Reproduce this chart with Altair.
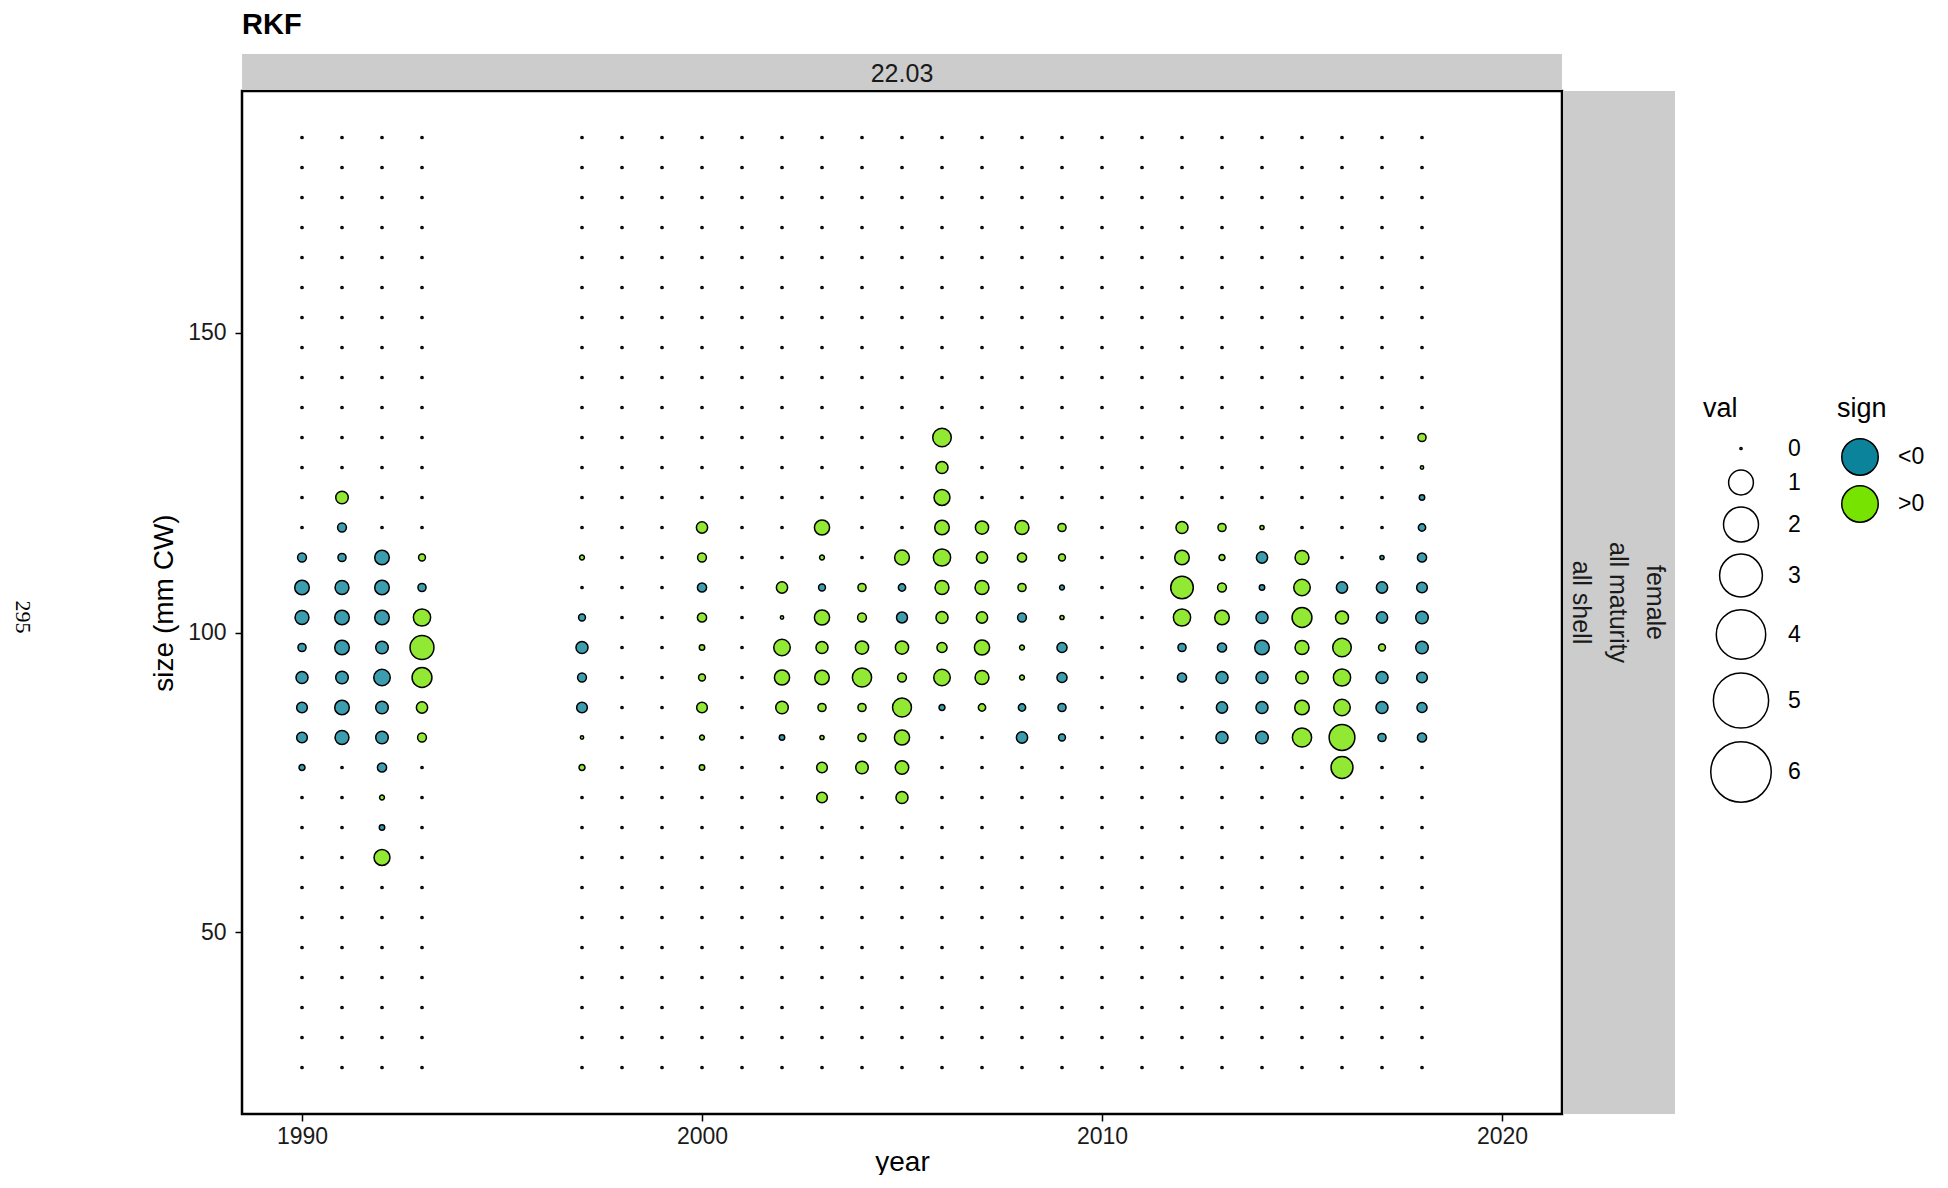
import altair as alt
import pandas as pd

# ---- data ----
YEARS = [1990, 1991, 1992, 1993, 1997, 1998, 1999, 2000, 2001, 2002, 2003,
         2004, 2005, 2006, 2007, 2008, 2009, 2010, 2011, 2012, 2013, 2014,
         2015, 2016, 2017, 2018]

SIZE_BINS = [27.5, 32.5, 37.5, 42.5, 47.5, 52.5, 57.5, 62.5, 67.5, 72.5,
             77.5, 82.5, 87.5, 92.5, 97.5, 102.5, 107.5, 112.5, 117.5, 122.5,
             127.5, 132.5, 137.5, 142.5, 147.5, 152.5, 157.5, 162.5, 167.5,
             172.5, 177.5, 182.5]

# size bins that carry non-zero residuals (all other bins are 0)
ROWS = [132.5, 127.5, 122.5, 117.5, 112.5, 107.5, 102.5, 97.5, 92.5, 87.5,
        82.5, 77.5, 72.5, 67.5, 62.5]

R1990 = [0, 0, 0, 0, -0.12, -0.34, -0.31, -0.10, -0.23, -0.18, -0.18, -0.05, 0, 0, 0]
R1991 = [0, 0, 0.25, -0.12, -0.10, -0.31, -0.34, -0.34, -0.25, -0.34, -0.31, 0, 0, 0, 0]
R1992 = [0, 0, 0, 0, -0.34, -0.34, -0.34, -0.25, -0.44, -0.25, -0.25, -0.13, 0.03, -0.04, 0.41]
R1993 = [0, 0, 0, 0, 0.07, -0.10, 0.48, 0.93, 0.64, 0.20, 0.12, 0, 0, 0, 0]
R1997 = [0, 0, 0, 0, 0.03, 0, -0.07, -0.23, -0.12, -0.18, 0.01, 0.05, 0, 0, 0]
R1998 = [0, 0, 0, 0, 0, 0, 0, 0, 0, 0, 0, 0, 0, 0, 0]
R1999 = [0, 0, 0, 0, 0, 0, 0, 0, 0, 0, 0, 0, 0, 0, 0]
R2000 = [0, 0, 0, 0.20, 0.12, -0.13, 0.13, 0.04, 0.07, 0.18, 0.03, 0.04, 0, 0, 0]
R2001 = [0, 0, 0, 0, 0, 0, 0, 0, 0, 0, 0, 0, 0, 0, 0]
R2002 = [0, 0, 0, 0, 0, 0.20, 0.01, 0.44, 0.37, 0.25, -0.04, 0, 0, 0, 0]
R2003 = [0, 0, 0, 0.37, 0.03, -0.07, 0.37, 0.23, 0.34, 0.10, 0.02, 0.18, 0.18, 0, 0]
R2004 = [0, 0, 0, 0, 0, 0.10, 0.12, 0.28, 0.60, 0.10, 0.10, 0.25, 0, 0, 0]
R2005 = [0, 0, 0, 0, 0.35, -0.08, -0.19, 0.28, 0.12, 0.58, 0.37, 0.29, 0.23, 0, 0]
R2006 = [0.56, 0.23, 0.41, 0.34, 0.48, 0.31, 0.23, 0.16, 0.44, -0.05, 0, 0, 0, 0, 0]
R2007 = [0, 0, 0, 0.28, 0.20, 0.31, 0.20, 0.37, 0.31, 0.08, 0, 0, 0, 0, 0]
R2008 = [0, 0, 0, 0.31, 0.13, 0.10, -0.12, 0.03, 0.03, -0.08, -0.20, 0, 0, 0, 0]
R2009 = [0, 0, 0, 0.10, 0.07, -0.03, 0.02, -0.16, -0.16, -0.10, -0.07, 0, 0, 0, 0]
R2010 = [0, 0, 0, 0, 0, 0, 0, 0, 0, 0, 0, 0, 0, 0, 0]
R2011 = [0, 0, 0, 0, 0, 0, 0, 0, 0, 0, 0, 0, 0, 0, 0]
R2012 = [0, 0, 0, 0.23, 0.34, 0.83, 0.48, -0.10, -0.13, 0, 0, 0, 0, 0, 0]
R2013 = [0, 0, 0, 0.10, 0.05, 0.12, 0.34, -0.13, -0.23, -0.20, -0.23, 0, 0, 0, 0]
R2014 = [0, 0, 0, 0.02, -0.20, -0.04, -0.23, -0.34, -0.23, -0.23, -0.25, 0, 0, 0, 0]
R2015 = [0, 0, 0, 0, 0.31, 0.44, 0.64, 0.31, 0.25, 0.34, 0.60, 0, 0, 0, 0]
R2016 = [0, 0, 0, 0, 0, -0.20, 0.27, 0.56, 0.48, 0.44, 1.08, 0.78, 0, 0, 0]
R2017 = [0, 0, 0, 0, -0.02, -0.20, -0.20, 0.07, -0.23, -0.23, -0.10, 0, 0, 0, 0]
R2018 = [0.10, 0.01, -0.04, -0.08, -0.13, -0.18, -0.25, -0.25, -0.18, -0.16, -0.13, 0, 0, 0, 0]

RESID = {
    1990: R1990, 1991: R1991, 1992: R1992, 1993: R1993, 1997: R1997,
    1998: R1998, 1999: R1999, 2000: R2000, 2001: R2001, 2002: R2002,
    2003: R2003, 2004: R2004, 2005: R2005, 2006: R2006, 2007: R2007,
    2008: R2008, 2009: R2009, 2010: R2010, 2011: R2011, 2012: R2012,
    2013: R2013, 2014: R2014, 2015: R2015, 2016: R2016, 2017: R2017,
    2018: R2018,
}

SIGN_LABELS = ["<0", ">0"]
SIGN_COLORS = ["#0B849B", "#76E400"]
VAL_BREAKS = [0, 1, 2, 3, 4, 5, 6]
X_TICKS = [1990, 2000, 2010, 2020]
Y_TICKS = [50, 100, 150]
STRIP_TOP = ["22.03"]
STRIP_RIGHT = ["female", "all maturity", "all shell"]

rows = []
for yr in YEARS:
    col = dict(zip(ROWS, RESID[yr]))
    for sz in SIZE_BINS:
        v = col.get(sz, 0.0)
        rows.append({"year": yr, "size": sz, "val": abs(v),
                     "sign": "<0" if v < 0 else ">0"})
df = pd.DataFrame(rows)

W, H = 1320, 1023
FONT = "Liberation Sans"

points = alt.Chart(df).mark_point(
    shape="circle", filled=True, stroke="black", strokeWidth=1.5,
    fillOpacity=0.8, strokeOpacity=1
).encode(
    x=alt.X("year:Q",
            scale=alt.Scale(domain=[1988.5, 2021.5], nice=False, zero=False),
            axis=alt.Axis(values=X_TICKS, format="d",
                          grid=False, domain=False, tickColor="black",
                          tickWidth=1.5, tickSize=7, labelPadding=4,
                          labelFontSize=23, labelColor="#1a1a1a",
                          labelFont=FONT, title="year", titleFont=FONT,
                          titleFontSize=28, titleFontWeight="normal",
                          titleColor="black", titlePadding=0)),
    y=alt.Y("size:Q",
            scale=alt.Scale(domain=[19.75, 190.25], nice=False, zero=False),
            axis=alt.Axis(values=Y_TICKS, grid=False, domain=False,
                          tickColor="black", tickWidth=1.5, tickSize=7,
                          labelPadding=9, labelFontSize=23,
                          labelColor="#1a1a1a", labelFont=FONT,
                          title="size (mm CW)", titleFont=FONT,
                          titleFontSize=28, titleFontWeight="normal",
                          titleColor="black", titlePadding=9)),
    size=alt.Size("val:Q",
                  scale=alt.Scale(domain=[0, 6], range=[5, 3660]),
                  legend=alt.Legend(title="val", values=VAL_BREAKS,
                                    orient="none", legendX=1461, legendY=305,
                                    symbolType="circle",
                                    symbolFillColor="white",
                                    symbolStrokeColor="black",
                                    symbolStrokeWidth=1.5, symbolOpacity=1,
                                    symbolOffset=7,
                                    titleFont=FONT, titleFontSize=27,
                                    titleFontWeight="normal",
                                    titleColor="black", titlePadding=14,
                                    labelFont=FONT, labelFontSize=23,
                                    labelColor="black", labelOffset=16,
                                    rowPadding=6)),
    fill=alt.Fill("sign:N",
                  scale=alt.Scale(domain=SIGN_LABELS, range=SIGN_COLORS),
                  legend=alt.Legend(title="sign", orient="none",
                                    legendX=1595, legendY=305,
                                    symbolType="circle", symbolSize=1330,
                                    symbolStrokeColor="black",
                                    symbolStrokeWidth=1.5, symbolOpacity=1,
                                    symbolOffset=4,
                                    titleFont=FONT, titleFontSize=27,
                                    titleFontWeight="normal",
                                    titleColor="black", titlePadding=15,
                                    labelFont=FONT, labelFontSize=23,
                                    labelColor="black", labelOffset=19,
                                    rowPadding=3)),
)

one = pd.DataFrame({"k": [0]})

top_strip = alt.Chart(one).mark_rect(fill="#CCCCCC").encode(
    x=alt.value(0), x2=alt.value(W), y=alt.value(-37), y2=alt.value(-1))
right_strip = alt.Chart(one).mark_rect(fill="#CCCCCC").encode(
    x=alt.value(W + 1), x2=alt.value(W + 113), y=alt.value(0), y2=alt.value(H))

top_label = alt.Chart(pd.DataFrame({"t": STRIP_TOP})).mark_text(
    font=FONT, fontSize=25, color="#1a1a1a", align="center",
    baseline="alphabetic").encode(
    text="t:N", x=alt.value(W / 2), y=alt.value(-9))

right_label = alt.Chart(pd.DataFrame({"t": [STRIP_RIGHT]})).mark_text(
    font=FONT, fontSize=25, color="#1a1a1a", align="center",
    baseline="middle", angle=90, lineHeight=37).encode(
    text="t", x=alt.value(W + 93), y=alt.value(H / 2))

title = alt.Chart(pd.DataFrame({"t": ["RKF"]})).mark_text(
    font=FONT, fontSize=29, fontWeight="bold", color="black", align="left",
    baseline="alphabetic").encode(
    text="t:N", x=alt.value(0), y=alt.value(-57))

page_no = alt.Chart(pd.DataFrame({"t": ["295"]})).mark_text(
    font="Liberation Serif", fontSize=22, color="black", align="center",
    baseline="middle", angle=90).encode(
    text="t:N", x=alt.value(-219), y=alt.value(526))

chart = alt.layer(
    top_strip, right_strip, points, top_label, right_label, title, page_no
).properties(
    width=W, height=H,
    background="white",
    autosize=alt.AutoSizeParams(type="none"),
    padding={"left": 234, "top": 83, "right": 370, "bottom": 61},
).configure_view(
    stroke="black", strokeWidth=2.5, fill="white"
)

chart.save("out.html", embed_options={"renderer": "svg", "actions": False})
